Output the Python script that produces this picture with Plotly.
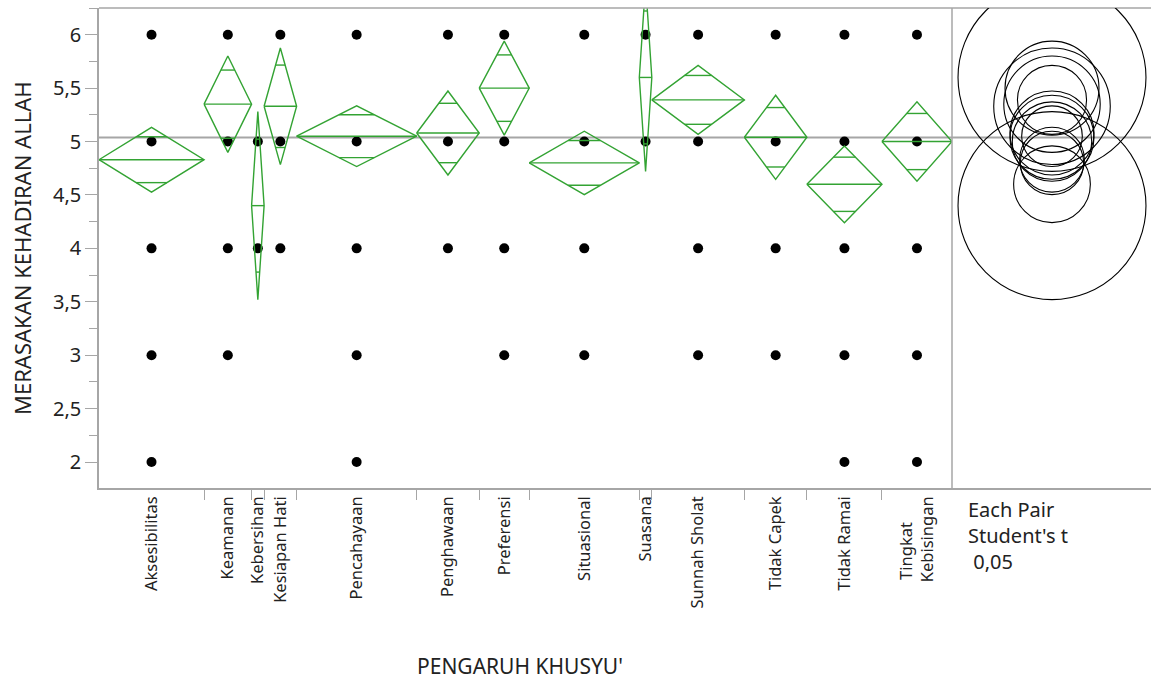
import math
import plotly.graph_objects as go

# Oneway analysis of MERASAKAN KEHADIRAN ALLAH by PENGARUH KHUSYU'
groups = [
    "Aksesibilitas", "Keamanan", "Kebersihan", "Kesiapan Hati", "Pencahayaan",
    "Penghawaan", "Preferensi", "Situasional", "Suasana", "Sunnah Sholat",
    "Tidak Capek", "Tidak Ramai", "Tingkat" + "\u00a0" * 6 + "<br>Kebisingan",
]
group_n = [42, 19, 5, 13, 48, 25, 20, 44, 5, 37, 25, 30, 28]
group_mean = [4.83, 5.35, 4.40, 5.33, 5.05, 5.08, 5.50, 4.80, 5.60, 5.39, 5.04, 4.60, 5.00]
# response levels observed in each group (jittered points are stacked)
levels_seen = [
    [2, 3, 4, 5, 6], [3, 4, 5, 6], [4, 5], [4, 5, 6], [2, 3, 4, 5, 6],
    [4, 5, 6], [3, 4, 5, 6], [3, 4, 5, 6], [5, 6], [3, 4, 5, 6],
    [3, 4, 5, 6], [2, 3, 4, 5, 6], [2, 3, 4, 5, 6],
]
root_mse = 1.0
t_crit = 1.967  # Student's t, alpha 0.05

y_tick_vals = [2, 2.5, 3, 3.5, 4, 4.5, 5, 5.5, 6]
y_tick_text = ["2", "2,5", "3", "3,5", "4", "4,5", "5", "5,5", "6"]

GREEN = "#33a333"
GRAY = "#a6a6a6"
TXT = "#222222"
FONT = "Noto Sans"

# group extents on the x axis are proportional to group size
left_edges, centers = [], []
acc = 0
for n in group_n:
    left_edges.append(acc)
    centers.append(acc + n / 2)
    acc += n
total_n = acc
boundaries = left_edges[1:]

half_ci = [t_crit * root_mse / math.sqrt(n) for n in group_n]
grand_mean = sum(m * n for m, n in zip(group_mean, group_n)) / total_n

fig = go.Figure()

# data points
px, py = [], []
for c, lv in zip(centers, levels_seen):
    for v in lv:
        px.append(c)
        py.append(v)
fig.add_trace(go.Scatter(
    x=px, y=py, mode="markers",
    marker=dict(color="black", size=10),
    hoverinfo="skip", showlegend=False,
))

# means diamonds with mean line and overlap marks
dx, dy = [], []
for x0, n, m, h in zip(left_edges, group_n, group_mean, half_ci):
    x1 = x0 + n
    xc = x0 + n / 2
    dx += [x0, xc, x1, xc, x0, None]
    dy += [m, m + h, m, m - h, m, None]
    dx += [x0, x1, None]
    dy += [m, m, None]
    off = h / math.sqrt(2)
    hw = (n / 2) * (1 - 1 / math.sqrt(2))
    for s in (1, -1):
        dx += [xc - hw, xc + hw, None]
        dy += [m + s * off, m + s * off, None]
fig.add_trace(go.Scatter(
    x=dx, y=dy, mode="lines",
    line=dict(color=GREEN, width=1.4),
    hoverinfo="skip", showlegend=False,
))

# geometry
W, H = 1151, 679
L, R, T, B = 99, 0, 8, 191
plot_w = W - L - R
plot_h = H - T - B
main_w = 853
split = main_w / plot_w
y_range = [1.757, 6.25]
px_per_unit = plot_h / (y_range[1] - y_range[0])
panel_w = plot_w - main_w
circle_cx_px = 100
x2_range = [-circle_cx_px / px_per_unit, (panel_w - circle_cx_px) / px_per_unit]

shapes = []
# grand mean line across both panels
shapes.append(dict(type="line", xref="paper", yref="y", x0=0, x1=1,
                   y0=grand_mean, y1=grand_mean,
                   line=dict(color=GRAY, width=2), layer="below"))
# frame top and panel divider
shapes.append(dict(type="line", xref="paper", yref="paper", x0=0, x1=1, y0=1, y1=1,
                   line=dict(color=GRAY, width=1.5)))
shapes.append(dict(type="line", xref="paper", yref="paper", x0=split, x1=split, y0=0, y1=1,
                   line=dict(color=GRAY, width=1.5)))
# comparison circles
for m, h in zip(group_mean, half_ci):
    shapes.append(dict(type="circle", xref="x2", yref="y",
                       x0=-h, x1=h, y0=m - h, y1=m + h,
                       line=dict(color="black", width=1.1)))

annotations = [
    dict(text="MERASAKAN KEHADIRAN ALLAH", textangle=-90,
         xref="paper", yref="paper", x=(22 - L) / plot_w, y=0.5,
         xanchor="center", yanchor="middle", showarrow=False,
         font=dict(family=FONT, size=22, color=TXT)),
    dict(text="PENGARUH KHUSYU'",
         xref="paper", yref="paper", x=(520 - L) / plot_w, y=(T + plot_h - 666) / plot_h,
         xanchor="center", yanchor="middle", showarrow=False,
         font=dict(family=FONT, size=21, color=TXT)),
    dict(text="Each Pair<br>Student's t<br>\u00a00,05", align="left",
         xref="paper", yref="paper", x=(966 - L) / plot_w, y=(T + plot_h - 494) / plot_h,
         xanchor="left", yanchor="top", showarrow=False,
         font=dict(family=FONT, size=20, color=TXT)),
]

fig.update_layout(
    width=W, height=H,
    margin=dict(l=L, r=R, t=T, b=B, pad=0),
    paper_bgcolor="white", plot_bgcolor="white",
    showlegend=False,
    shapes=shapes, annotations=annotations,
    xaxis=dict(
        domain=[0, split], range=[0, total_n], automargin=False,
        tickmode="array", tickvals=centers, ticktext=groups, tickangle=-90,
        ticks="", showgrid=False, zeroline=False,
        showline=True, linecolor=GRAY, linewidth=1.5,
        tickfont=dict(family=FONT, size=16.5, color=TXT),
        minor=dict(tickmode="array", tickvals=boundaries, ticks="outside",
                   ticklen=10, tickcolor=GRAY, tickwidth=1.2, showgrid=False),
    ),
    xaxis2=dict(
        domain=[split, 1], range=x2_range, anchor="y", automargin=False,
        showticklabels=False, ticks="", showgrid=False, zeroline=False,
        showline=True, linecolor=GRAY, linewidth=1.5,
    ),
    yaxis=dict(
        range=y_range, automargin=False,
        tickmode="array", tickvals=y_tick_vals, ticktext=y_tick_text,
        ticks="outside", ticklen=12, tickcolor=GRAY, tickwidth=1.2,
        showgrid=False, zeroline=False,
        showline=True, linecolor=GRAY, linewidth=1.5,
        tickfont=dict(family=FONT, size=20, color=TXT),
        minor=dict(tickmode="linear", tick0=0, dtick=0.25, ticks="outside",
                   ticklen=8, tickcolor=GRAY, tickwidth=1.2, showgrid=False),
    ),
)

fig.write_html("out.html")
